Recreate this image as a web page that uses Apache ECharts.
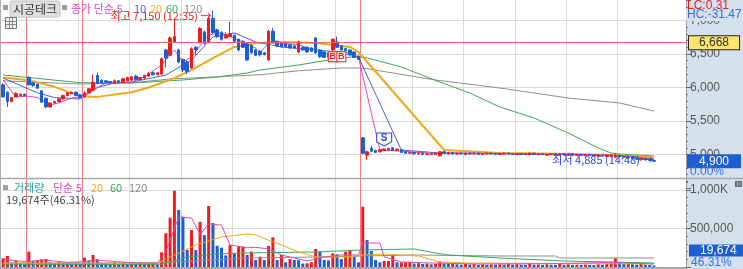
<!DOCTYPE html>
<html><head><meta charset="utf-8">
<script src="https://cdn.jsdelivr.net/npm/echarts@6/dist/echarts.min.js"></script>
<style>html,body{margin:0;padding:0;background:#fff}#c{width:743px;height:269px}</style>
</head><body><div id="c"></div>
<script>
// ---------------- data ----------------
const slotCount = 160;
const categories = Array.from({length: slotCount}, (_, i) => String(i));
// [open, close, low, high]
const candles = [
[6040,5860,5850,6060],[5930,5790,5710,5940],[5790,5850,5780,5860],[5860,5910,5850,5930],[5880,5900,5870,5910],
[5900,5880,5870,5910],[6150,6040,6030,6170],[6070,6030,6010,6080],[6050,5990,5980,6060],[5950,5780,5770,5960],
[5840,5710,5690,5850],[5710,5770,5700,5780],[5770,5790,5760,5800],[5790,5830,5780,5840],[5830,5880,5820,5890],
[5880,5920,5870,5930],[5910,5930,5900,5940],[5930,5880,5870,5940],[5890,5850,5840,5900],[5860,5920,5850,5940],
[5920,5980,5910,5990],[5960,6080,5950,6190],[6180,6060,6050,6220],[6110,6070,6060,6120],[6100,6080,6070,6110],
[6090,6070,6060,6100],[6070,6100,6060,6120],[6100,6080,6070,6110],[6080,6130,6070,6140],[6100,6150,6090,6160],
[6110,6160,6100,6170],[6170,6120,6110,6190],[6120,6150,6110,6160],[6140,6180,6130,6190],[6170,6210,6160,6230],
[6220,6190,6180,6240],[6190,6220,6180,6230],[6200,6430,6190,6450],[6560,6440,6300,6580],[6480,6740,6470,6760],
[6680,6760,6670,7020],[6560,6380,6360,6580],[6420,6260,6230,6430],[6380,6240,6200,6400],[6290,6580,6280,6600],
[6600,6560,6490,6620],[6680,6880,6660,6900],[6830,6660,6640,6850],[6680,7030,6670,7060],[7030,6820,6800,7150],
[6860,6760,6740,6880],[6820,6720,6700,6840],[6740,6780,6730,6820],[6760,6800,6750,6980],[6780,6690,6680,6790],
[6720,6560,6540,6730],[6690,6600,6590,6700],[6650,6410,6400,6660],[6630,6520,6500,6640],[6560,6480,6470,6580],
[6540,6490,6460,6560],[6520,6490,6480,6530],[6410,6840,6400,6860],[6840,6680,6660,6890],[6690,6620,6600,6700],
[6660,6610,6590,6670],[6650,6610,6600,6660],[6640,6590,6580,6650],[6620,6590,6580,6630],[6530,6680,6510,6700],
[6600,6560,6550,6610],[6600,6530,6520,6610],[6590,6540,6530,6600],[6740,6520,6500,6750],[6560,6460,6440,6570],
[6530,6450,6440,6540],[6510,6450,6440,6520],[6560,6720,6550,6730],[6680,6600,6590,6760],[6620,6560,6550,6630],
[6580,6550,6540,6590],[6560,6490,6480,6570],[6530,6450,6440,6540],[6470,6420,6410,6480],[5250,5020,5000,5260],
[4990,5040,4920,5060],[5090,5050,5040,5130],[5060,5030,5020,5070],[5040,5070,5030,5080],[5060,5080,5050,5090],
[5070,5090,5060,5100],[5100,5060,5050,5110],[5060,5080,5050,5090],[5070,5030,5020,5080],[5040,5020,5010,5050],
[5020,5030,5010,5040],[5030,5010,5000,5040],[5010,5020,5000,5030],[5020,5000,4990,5030],[5000,5010,4990,5020],
[5000,5010,4990,5020],[5000,5020,4990,5030],[4980,5040,4970,5050],[5040,5020,5010,5050],[5010,5030,5000,5040],
[5030,5010,5000,5040],[5010,5020,5000,5030],[5020,5010,5000,5030],[5000,5020,4990,5030],[5020,5010,5000,5030],
[5010,5020,5000,5030],[5020,5000,4990,5030],[5000,5010,4990,5020],[5010,5020,5000,5030],[5020,5010,5000,5030],
[5010,5000,4990,5020],[5000,5010,4990,5020],[5010,5020,5000,5030],[5020,5010,5000,5030],[5010,5000,4990,5020],
[5000,5010,4990,5020],[5010,5000,4990,5020],[5000,5010,4990,5020],[5000,5020,4990,5030],[5020,5000,4990,5030],
[5000,5010,4990,5020],[5010,5000,4990,5020],[4990,5000,4980,5010],[5000,5010,4990,5020],[5010,5000,4990,5020],
[4990,5010,4980,5020],[5010,5000,4990,5020],[4990,5010,4980,5020],[5010,4990,4980,5020],[4990,5000,4980,5010],
[5000,4990,4980,5010],[4980,5000,4970,5010],[5000,4990,4980,5010],[4990,4980,4970,5000],[4980,4990,4970,5000],
[4990,4980,4970,5000],[4970,4990,4960,5000],[4980,4990,4970,5000],[4960,4990,4950,5010],[4990,4970,4960,5000],
[4970,4960,4950,4980],[4950,4960,4940,4970],[4960,4940,4930,4970],[4940,4930,4920,4950],[4920,4940,4910,4950],
[4940,4920,4910,4950],[4920,4910,4900,4930],[4910,4900,4885,4920]
];
const volumes = [
113000,143000,48000,78000,48000,40000,199000,78000,91000,100000,
104000,60000,50000,65000,55000,60000,45000,50000,40000,121000,
80000,156000,100000,50000,45000,40000,55000,35000,50000,40000,
45000,35000,50000,40000,45000,48000,30000,190000,438000,640000,
991000,740000,653000,220000,480000,220000,588000,415000,792000,571000,
277000,251000,150000,286000,178000,264000,264000,156000,199000,91000,
134000,91000,273000,386000,91000,156000,61000,104000,91000,88000,
45000,48000,61000,234000,199000,91000,85000,178000,165000,104000,
199000,208000,134000,61000,783000,350000,208000,91000,61000,78000,
78000,156000,61000,61000,62000,63000,45000,50000,40000,45000,
35000,40000,70000,45000,40000,45000,35000,30000,40000,32000,
38000,30000,35000,28000,33000,30000,35000,30000,50000,30000,
35000,30000,28000,52000,30000,32000,28000,35000,30000,28000,
45000,30000,35000,28000,30000,28000,32000,28000,26000,35000,
30000,45000,50000,113000,61000,40000,45000,35000,30000,52000,
30000,25000,19674
];
// moving averages: [barIndex, value]
const ma5 = [[0,6112],[3,5860],[6,5870],[8,5850],[11,5740],[13,5770],[16,5843],[18,5858],[21,5963],[24,6067],[30,6082],[33,6157],[37,6336],[40,6560],[42,6381],[44,6455],[48,6790],[51,6814],[55,6709],[59,6590],[60,6515],[62,6664],[65,6664],[69,6634],[73,6560],[77,6485],[79,6515],[83,6450],[88,5067],[93,5050],[100,5020],[110,5015],[120,5010],[130,5000],[140,4990],[146,4975],[152,4920]];
const ma10 = [[0,6142],[8,5920],[12,5850],[18,5828],[22,6000],[26,6067],[30,6080],[38,6187],[44,6410],[49,6754],[54,6814],[59,6680],[65,6605],[73,6560],[81,6515],[83,6455],[93,5067],[102,5022],[110,5020],[120,5010],[130,5000],[140,4990],[146,4975],[152,4930]];
const ma20 = [[0,6150],[6,6110],[12,6010],[18,5870],[22,5860],[30,5930],[34,6000],[40,6140],[44,6260],[49,6440],[54,6605],[59,6664],[65,6679],[73,6664],[81,6605],[83,6530],[103,5067],[116,5022],[130,5010],[140,4995],[146,4980],[152,4955]];
const ma60 = [[0,6187],[18,6072],[30,6067],[42,6112],[50,6157],[57,6216],[60,6261],[69,6336],[76,6410],[81,6455],[84,6455],[87,6410],[93,6306],[102,6082],[109,5918],[116,5709],[124,5545],[132,5321],[139,5097],[142,5022],[144,5007],[152,4978]];
const ma120 = [[0,6100],[18,6052],[30,6070],[39,6127],[50,6160],[60,6190],[69,6250],[79,6291],[84,6291],[101,6112],[116,5993],[132,5843],[144,5769],[152,5649]];
const vma5 = [[0,100000],[5,70000],[10,90000],[15,60000],[19,70000],[21,90000],[24,80000],[30,55000],[36,50000],[38,200000],[41,649000],[44,636000],[46,420000],[48,560000],[51,545000],[53,286000],[57,250000],[59,255000],[62,235000],[65,156000],[68,117000],[71,78000],[75,130000],[79,156000],[83,156000],[84,312000],[88,312000],[89,130000],[93,65000],[100,52000],[110,40000],[120,40000],[130,45000],[142,60000],[146,50000],[152,40000]];
const vma20 = [[0,52000],[36,52000],[40,156000],[45,286000],[51,390000],[57,429000],[59,416000],[63,325000],[65,286000],[69,195000],[73,130000],[81,130000],[84,156000],[89,169000],[93,156000],[97,143000],[102,65000],[109,52000],[152,39000]];
const vma60 = [[0,35000],[37,35000],[43,130000],[50,169000],[57,182000],[73,195000],[84,221000],[96,234000],[101,182000],[104,156000],[116,117000],[131,78000],[152,52000]];
const vma120 = [[0,50000],[36,52000],[57,117000],[73,130000],[96,156000],[116,143000],[129,143000],[130,117000],[152,117000]];
const gridLineIdx = [18,30,42,54,66,78,96,108,120,132,144];
const dayBreakIdx = [6,19,84];
const refLevel = 6668;
const signals = [{i:77, v:6460, t:'B'}, {i:79, v:6460, t:'B'}];
const sellSignal = {i:89, v:5225, t:'S'};

// ---------------- chart ----------------
const RED = '#ee1c1c', BLUE = '#1d5fd3';
const C5 = '#e048c0', C10 = '#4a5fe0', C20 = '#f2a71c', C60 = '#3aa85a', C120 = '#8e8e8e';
const NUM = '"Liberation Sans", Arial, sans-serif';
const KR = '"Noto Sans CJK KR", "Noto Sans", sans-serif';
const fmt = v => Math.round(v).toLocaleString('en-US');
const gridSet = new Set(gridLineIdx), daySet = new Set(dayBreakIdx);

let hiIdx = 0, loIdx = 0;
candles.forEach((c, i) => { if (c[3] > candles[hiIdx][3]) hiIdx = i; if (c[2] <= candles[loIdx][2]) loIdx = i; });
const lastClose = candles[candles.length - 1][1];

const volData = volumes.map((v, i) => ({value: v, itemStyle: {color: (i === 0 || v >= volumes[i - 1]) ? RED : BLUE}}));

function xAx(gi, set, color) {
  return {type: 'category', gridIndex: gi, data: categories, boundaryGap: true,
    axisLine: {show: false}, axisTick: {show: false}, axisLabel: {show: false},
    splitLine: {show: true, interval: (i) => set.has(i), lineStyle: {color: color, width: 1}}};
}
function line(name, data, color, w, xi, yi) {
  return {type: 'line', name, data, xAxisIndex: xi, yAxisIndex: yi, showSymbol: false, symbol: 'none',
    connectNulls: true, lineStyle: {color, width: w}, itemStyle: {color}, z: 3, silent: true};
}
const invisible = {color: 'rgba(0,0,0,0)'};

const option = {
  animation: false,
  backgroundColor: '#d5e0ed',
  grid: [
    {left: 1, right: 57, top: 0, height: 188, show: true, backgroundColor: '#fff', borderWidth: 0},
    {left: 1, right: 57, top: 178, height: 89, show: true, backgroundColor: '#fff', borderWidth: 0}
  ],
  xAxis: [
    xAx(0, gridSet, '#dadada'), xAx(1, gridSet, '#dadada'),
    xAx(0, daySet, '#f27c7c'), xAx(1, daySet, '#f27c7c')
  ],
  yAxis: [
    {type: 'value', gridIndex: 0, position: 'right', min: 4500, max: 7306, interval: 500,
     axisLine: {show: true, lineStyle: {color: '#9aa4b0'}},
     axisTick: {show: true, length: 5, lineStyle: {color: '#666'}},
     minorTick: {show: true, splitNumber: 5, length: 2, lineStyle: {color: '#777'}},
     axisLabel: {color: '#555', fontSize: 12, fontFamily: NUM, margin: 4, formatter: v => fmt(v), showMinLabel: false, showMaxLabel: false},
     splitLine: {show: true, showMinLine: false, showMaxLine: false, lineStyle: {color: '#dadada', width: 1}}},
    {type: 'value', gridIndex: 1, position: 'right', min: 0, max: 1155844, interval: 500000,
     axisLine: {show: true, lineStyle: {color: '#9aa4b0'}},
     axisTick: {show: true, length: 5, lineStyle: {color: '#666'}},
     minorTick: {show: true, splitNumber: 5, length: 2, lineStyle: {color: '#777'}},
     axisLabel: {color: '#555', fontSize: 12, fontFamily: NUM, margin: 4, showMinLabel: false, showMaxLabel: false,
       formatter: v => v === 1000000 ? '1,000K' : fmt(v)},
     splitLine: {show: true, showMinLine: false, showMaxLine: false, lineStyle: {color: '#dadada', width: 1}}}
  ],
  series: [
    line('120', ma120, C120, 1, 0, 0),
    line('60', ma60, C60, 1, 0, 0),
    line('20', ma20, C20, 2, 0, 0),
    line('10', ma10, C10, 1, 0, 0),
    line('5', ma5, C5, 1, 0, 0),
    {type: 'candlestick', name: '시공테크', data: candles, xAxisIndex: 0, yAxisIndex: 0, barWidth: 3, z: 4,
     itemStyle: {color: RED, color0: BLUE, borderColor: RED, borderColor0: BLUE, borderWidth: 1},
     markLine: {symbol: ['none', 'none'], silent: true, animation: false, data: [
       {yAxis: refLevel, lineStyle: {color: '#f06464', width: 1, type: 'solid'},
        label: {show: true, position: 'end', distance: 3, formatter: fmt(refLevel), color: '#333',
          backgroundColor: '#ffe36e', borderColor: '#222', borderWidth: 1, padding: [1, 10, 0, 10], fontSize: 12, fontFamily: NUM}},
       {yAxis: lastClose, lineStyle: {color: 'rgba(0,0,0,0)', width: 1, type: 'solid'},
        label: {show: true, position: 'end', distance: 2, formatter: fmt(lastClose), color: '#fff',
          backgroundColor: BLUE, borderColor: BLUE, borderWidth: 1, padding: [0, 11, 0, 11], fontSize: 12, fontFamily: NUM}}
     ]},
     markPoint: {silent: true, animation: false, data: [
       {coord: [hiIdx, candles[hiIdx][3]], symbol: 'circle', symbolSize: 1, itemStyle: invisible,
        label: {show: true, position: 'left', distance: 1, offset: [0, 5], color: RED, fontSize: 11, fontFamily: KR,
          formatter: '최고 ' + fmt(candles[hiIdx][3]) + ' (12:35) →'}},
       {coord: [loIdx, candles[loIdx][2]], symbol: 'circle', symbolSize: 1, itemStyle: invisible,
        label: {show: true, position: 'left', distance: 0, offset: [0, -2], color: '#2a3ee8', fontSize: 11, fontFamily: KR,
          formatter: '최저 ' + fmt(candles[loIdx][2]) + ' (14:48) →'}},
       ...signals.map(s => ({coord: [s.i, s.v], symbol: 'rect', symbolSize: [9, 10],
         itemStyle: {color: '#fff', borderColor: RED, borderWidth: 1},
         label: {show: true, position: 'inside', formatter: s.t, color: RED, fontSize: 9, fontWeight: 'bold', fontFamily: NUM}})),
       {coord: [sellSignal.i, sellSignal.v], symbol: 'path://M0,0L14,0L14,9L7,13L0,9Z', symbolSize: [15, 13],
        itemStyle: {color: '#fff', borderColor: '#3048e0', borderWidth: 1},
        label: {show: true, position: 'inside', offset: [0, -1], formatter: sellSignal.t, color: '#3048e0', fontSize: 10, fontWeight: 'bold', fontFamily: NUM}}
     ]}
    },
    {type: 'bar', name: '거래량', data: volData, xAxisIndex: 1, yAxisIndex: 1, barWidth: 3, z: 2},
    line('v120', vma120, C120, 1, 1, 1),
    line('v60', vma60, C60, 1, 1, 1),
    line('v20', vma20, C20, 1, 1, 1),
    line('v5', vma5, C5, 1, 1, 1)
  ],
  graphic: [
    {type: 'line', z: 50, shape: {x1: 0, y1: 178.5, x2: 743, y2: 178.5}, style: {stroke: '#a9a9a9', lineWidth: 1.5}},
    {type: 'line', z: 50, shape: {x1: 0, y1: 268, x2: 686, y2: 268}, style: {stroke: '#a9a9a9', lineWidth: 2}},
    {type: 'line', z: 50, shape: {x1: 0.5, y1: 0, x2: 0.5, y2: 269}, style: {stroke: '#b0b0b0', lineWidth: 1}},
    // top-left title
    {type: 'rect', z: 50, shape: {x: 3, y: 5, width: 5, height: 5}, style: {fill: '#9d9d9d'}},
    {type: 'rect', z: 50, shape: {x: 10, y: 1, width: 50, height: 16, r: 2}, style: {fill: '#dedede', stroke: '#c4c4c4'}},
    {type: 'text', z: 51, x: 13, y: 9, style: {text: '시공테크', fill: '#333', font: '12px ' + KR, verticalAlign: 'middle'}},
    {type: 'rect', z: 50, shape: {x: 62, y: 5, width: 5, height: 5}, style: {fill: '#9d9d9d'}},
    {type: 'text', z: 51, x: 71, y: 9, style: {text: '종가 단순 5', fill: C5, font: '11px ' + KR, verticalAlign: 'middle'}},
    {type: 'text', z: 51, x: 134, y: 9, style: {text: '10', fill: C10, font: '11px ' + KR, verticalAlign: 'middle'}},
    {type: 'text', z: 51, x: 150, y: 9, style: {text: '20', fill: C20, font: '11px ' + KR, verticalAlign: 'middle'}},
    {type: 'text', z: 51, x: 166, y: 9, style: {text: '60', fill: C60, font: '11px ' + KR, verticalAlign: 'middle'}},
    {type: 'text', z: 51, x: 184, y: 9, style: {text: '120', fill: C120, font: '11px ' + KR, verticalAlign: 'middle'}},
    // grid icon
    {type: 'rect', z: 50, shape: {x: 5.5, y: 17.5, width: 11, height: 11}, style: {fill: '#f2f2f2', stroke: '#777'}},
    {type: 'line', z: 51, shape: {x1: 6, y1: 21.5, x2: 16, y2: 21.5}, style: {stroke: '#888'}},
    {type: 'line', z: 51, shape: {x1: 6, y1: 24.5, x2: 16, y2: 24.5}, style: {stroke: '#888'}},
    {type: 'line', z: 51, shape: {x1: 9.5, y1: 18, x2: 9.5, y2: 28}, style: {stroke: '#888'}},
    {type: 'line', z: 51, shape: {x1: 12.5, y1: 18, x2: 12.5, y2: 28}, style: {stroke: '#888'}},
    // volume legend
    {type: 'rect', z: 50, shape: {x: 3, y: 185, width: 5, height: 5}, style: {fill: '#9d9d9d'}},
    {type: 'text', z: 51, x: 14, y: 188, style: {text: '거래량', fill: '#2ea6a6', font: '11px ' + KR, verticalAlign: 'middle'}},
    {type: 'text', z: 51, x: 53, y: 188, style: {text: '단순 5', fill: C5, font: '11px ' + KR, verticalAlign: 'middle'}},
    {type: 'text', z: 51, x: 91, y: 188, style: {text: '20', fill: C20, font: '11px ' + KR, verticalAlign: 'middle'}},
    {type: 'text', z: 51, x: 110, y: 188, style: {text: '60', fill: C60, font: '11px ' + KR, verticalAlign: 'middle'}},
    {type: 'text', z: 51, x: 129, y: 188, style: {text: '120', fill: C120, font: '11px ' + KR, verticalAlign: 'middle'}},
    {type: 'text', z: 51, x: 6, y: 200, style: {text: fmt(volumes[volumes.length - 1]) + '주(46.31%)', fill: '#444', font: '11px ' + KR, verticalAlign: 'middle'}},
    // right panel texts
    {type: 'text', z: 60, x: 687, y: 5.5, style: {text: 'LC:0.31', fill: RED, font: '12px ' + NUM, verticalAlign: 'middle'}},
    {type: 'text', z: 60, x: 686, y: 15, style: {text: 'HC:-31.47', fill: '#3a6ee0', font: '12px ' + NUM, verticalAlign: 'middle', backgroundColor: '#d5e0ed', padding: [0, 1, 0, 1]}},
    {type: 'text', z: 60, x: 690, y: 172, style: {text: '0.00%', fill: '#3a6ee0', font: '12px ' + NUM, verticalAlign: 'middle'}},
    {type: 'text', z: 60, x: 689, y: 250.5, style: {text: fmt(volumes[volumes.length - 1]), fill: '#fff', font: '12px ' + NUM, verticalAlign: 'middle', backgroundColor: BLUE, padding: [0, 11, 0, 11]}},
    {type: 'text', z: 60, x: 691, y: 262.5, style: {text: '46.31%', fill: '#3a6ee0', font: '12px ' + NUM, verticalAlign: 'middle'}},
    {type: 'rect', z: 60, shape: {x: 735.5, y: 181.5, width: 6, height: 5}, style: {fill: '#888', stroke: '#666'}}
  ]
};
const chart = echarts.init(document.getElementById('c'));
chart.setOption(option);
</script>
</body></html>
